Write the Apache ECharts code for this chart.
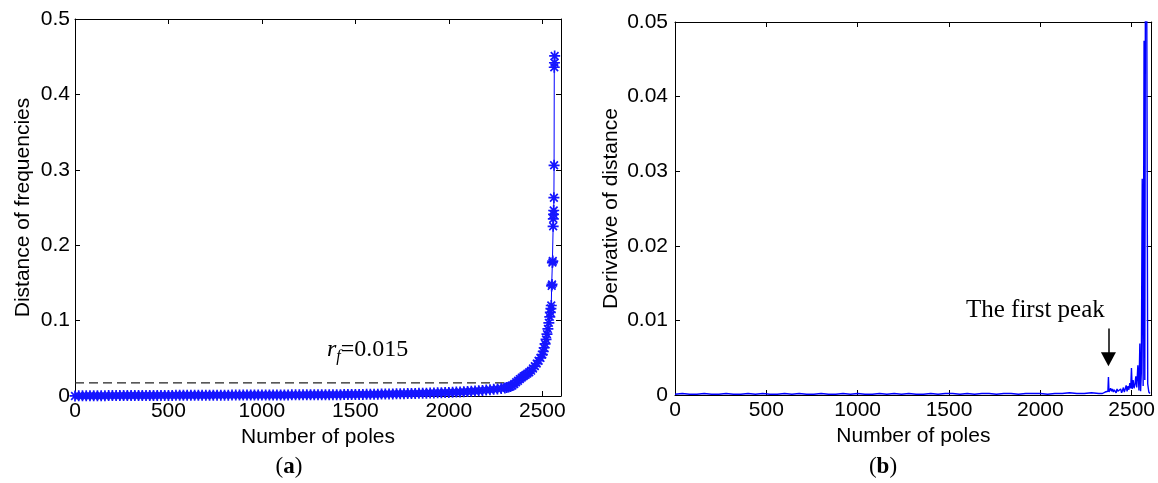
<!DOCTYPE html>
<html>
<head>
<meta charset="utf-8">
<script src="https://cdn.jsdelivr.net/npm/echarts@6/dist/echarts.min.js"></script>
<style>
html,body{margin:0;padding:0;background:#fff;}
#main{width:1158px;height:483px;}
</style>
</head>
<body>
<div id="main"></div>
<script>
// ---------- Data (a): sorted distance of frequencies ----------
const distX = [
0,20,40,60,80,100,120,140,160,180,
200,220,240,260,280,300,320,340,360,380,
400,420,440,460,480,500,520,540,560,580,
600,620,640,660,680,700,720,740,760,780,
800,820,840,860,880,900,920,940,960,980,
1000,1020,1040,1060,1080,1100,1120,1140,1160,1180,
1200,1220,1240,1260,1280,1300,1320,1340,1360,1380,
1400,1420,1440,1460,1480,1500,1520,1540,1560,1580,
1600,1620,1640,1660,1680,1700,1720,1740,1760,1780,
1800,1820,1840,1860,1880,1900,1920,1940,1960,1980,
2000,2020,2040,2060,2080,2100,2120,2140,2160,2180,
2200,2220,2240,2260,2280,2300,
2310,2320,2330,2340,2350,2360,2370,2380,2390,2400,
2410,2420,2430,2440,2450,2460,2470,2480,2490,2500,
2505,2510,2515,2520,2525,2530,2535,2540,2543,2546,
2548,2550,2552,2554,2556,2558,2559,2560,2561,2562,
2563,2564,2565,2566
];
const distY = [
0.0001,0.0002,0.0002,0.0003,0.0003,0.0003,0.0004,0.0004,0.0004,0.0005,
0.0005,0.0005,0.0005,0.0006,0.0006,0.0006,0.0006,0.0007,0.0007,0.0007,
0.0007,0.0007,0.0008,0.0008,0.0008,0.0008,0.0008,0.0009,0.0009,0.0009,
0.0009,0.0009,0.0010,0.0010,0.0010,0.0010,0.0010,0.0011,0.0011,0.0011,
0.0011,0.0011,0.0012,0.0012,0.0012,0.0012,0.0013,0.0013,0.0013,0.0013,
0.0013,0.0013,0.0013,0.0014,0.0014,0.0014,0.0014,0.0014,0.0015,0.0015,
0.0015,0.0015,0.0016,0.0016,0.0016,0.0016,0.0017,0.0017,0.0017,0.0018,
0.0018,0.0018,0.0019,0.0019,0.0020,0.0020,0.0021,0.0021,0.0022,0.0022,
0.0023,0.0024,0.0025,0.0026,0.0027,0.0028,0.0029,0.0030,0.0031,0.0032,
0.0033,0.0034,0.0035,0.0037,0.0038,0.0040,0.0041,0.0043,0.0044,0.0046,
0.0048,0.0050,0.0052,0.0054,0.0057,0.0060,0.0063,0.0066,0.0070,0.0074,
0.0078,0.0083,0.0088,0.0094,0.0100,0.0107,
0.0112,0.0118,0.0126,0.0138,0.0160,0.0182,0.0203,0.0224,0.0244,0.0263,
0.0280,0.0297,0.0315,0.0336,0.0365,0.0396,0.0430,0.0468,0.0505,0.0550,
0.0590,0.0640,0.0690,0.0750,0.0820,0.0890,0.0970,0.1050,0.1110,0.1160,
0.1200,0.1460,0.1480,0.1770,0.1790,0.2250,0.2350,0.2410,0.2460,0.2630,
0.3060,0.4360,0.4420,0.4510
];
const thresholdX = [0, 2320];
const thresholdY = [0.0175, 0.0175];

// ---------- Data (b): derivative of distance ----------
const derivX = [
0,40,80,120,160,200,240,280,320,360,
400,440,480,520,560,600,640,680,720,760,
800,840,880,920,960,1000,1040,1080,1120,1160,
1200,1240,1280,1320,1360,1400,1440,1480,1520,1560,
1600,1640,1680,1720,1760,1800,1840,1880,1920,1960,
2000,2040,2080,2120,2160,2200,2240,2280,2320,
2340,2345,2350,2355,2360,2365,2370,2373,2376,2380,
2385,2390,2395,2400,2405,2410,2415,2420,2425,2430,
2435,2440,2445,2450,2455,2460,2465,2470,2475,2480,
2485,2490,2495,2499,2503,2508,2513,2518,2523,2528,
2534,2540,2545,2549,2553,2558,2563,2568,2572,2577,
2582,2588,2594,2600
];
const derivY = [
0.0001,0.0002,0.0001,0.0001,0.0002,0.0001,0.0001,0.0002,0.0001,0.0001,
0.0002,0.0001,0.0002,0.0001,0.0001,0.0002,0.0001,0.0002,0.0001,0.0001,
0.0002,0.0001,0.0001,0.0002,0.0001,0.0002,0.0001,0.0001,0.0002,0.0001,
0.0002,0.0001,0.0002,0.0001,0.0001,0.0002,0.0001,0.0002,0.0002,0.0001,
0.0002,0.0001,0.0002,0.0002,0.0001,0.0002,0.0002,0.0001,0.0002,0.0002,
0.0002,0.0001,0.0002,0.0002,0.0003,0.0002,0.0002,0.0003,0.0002,
0.0002,0.0003,0.0002,0.0004,0.0003,0.0002,0.0005,0.0024,0.0004,0.0006,
0.0009,0.0005,0.0008,0.0004,0.0007,0.0009,0.0003,0.0008,0.0005,0.0004,
0.0006,0.0008,0.0003,0.0006,0.0010,0.0004,0.0008,0.0013,0.0005,0.0012,
0.0007,0.0016,0.0009,0.0036,0.0008,0.0020,0.0009,0.0014,0.0025,0.0010,
0.0040,0.0006,0.0069,0.0005,0.0030,0.0290,0.0012,0.0475,0.0020,0.0800,
0.0600,0.0015,0.0004,0.0002
];
const firstPeakX = 2373;

// ---------- Axis ticks ----------
const xTicks = [0, 500, 1000, 1500, 2000, 2500];
const yTicksA = [0, 0.1, 0.2, 0.3, 0.4, 0.5];
const yTicksB = [0, 0.01, 0.02, 0.03, 0.04, 0.05];

const zip = (a, b) => a.map((v, i) => [v, b[i]]);
const SANS = '"Liberation Sans", Arial, sans-serif';
const SERIF = '"Liberation Serif", "Times New Roman", serif';
const BLUE = '#0000ff';
const FS = 21;

const chart = echarts.init(document.getElementById('main'), null, {renderer: 'canvas'});

function mainX(gridIndex, max) {
  return {
    type: 'value', gridIndex: gridIndex, min: 0, max: max, interval: 500,
    position: 'bottom',
    name: 'Number of poles', nameLocation: 'middle', nameGap: 29,
    nameTextStyle: {fontFamily: SANS, fontSize: FS, color: '#000'},
    axisLine: {show: true, onZero: false, lineStyle: {color: '#000', width: 1}},
    axisTick: {show: true, inside: true, length: 5, lineStyle: {color: '#000'}},
    axisLabel: {show: true, fontFamily: SANS, fontSize: FS, color: '#000', margin: 5,
      showMaxLabel: false,
      formatter: v => xTicks.indexOf(v) >= 0 ? String(v) : ''},
    splitLine: {show: false}
  };
}
function boxX(gridIndex, max) {
  return {
    type: 'value', gridIndex: gridIndex, min: 0, max: max, interval: 500, position: 'top',
    axisLine: {show: true, onZero: false, lineStyle: {color: '#000', width: 1}},
    axisTick: {show: true, inside: true, length: 5, lineStyle: {color: '#000'}},
    axisLabel: {show: false}, splitLine: {show: false}
  };
}
function mainY(gridIndex, max, interval, name, gap, ticks, digits, margin) {
  return {
    type: 'value', gridIndex: gridIndex, min: 0, max: max, interval: interval,
    position: 'left',
    name: name, nameLocation: 'middle', nameGap: gap, nameRotate: 90,
    nameTextStyle: {fontFamily: SANS, fontSize: FS, color: '#000'},
    axisLine: {show: true, onZero: false, lineStyle: {color: '#000', width: 1}},
    axisTick: {show: true, inside: true, length: 5, lineStyle: {color: '#000'}},
    axisLabel: {show: true, fontFamily: SANS, fontSize: FS, color: '#000', margin: margin,
      formatter: v => {
        const m = ticks.find(t => Math.abs(t - v) < 1e-9);
        if (m === undefined) return '';
        return m === 0 ? '0' : m.toFixed(digits);
      }},
    splitLine: {show: false}
  };
}
function boxY(gridIndex, max, interval) {
  return {
    type: 'value', gridIndex: gridIndex, min: 0, max: max, interval: interval, position: 'right',
    axisLine: {show: true, onZero: false, lineStyle: {color: '#000', width: 1}},
    axisTick: {show: true, inside: true, length: 5, lineStyle: {color: '#000'}},
    axisLabel: {show: false}, splitLine: {show: false}
  };
}

const asterisk = 'path://M5,0L5,10M0,5L10,5M1.5,1.5L8.5,8.5M1.5,8.5L8.5,1.5';

const option = {
  animation: false,
  backgroundColor: '#fff',
  grid: [
    {left: 75, top: 19, width: 486, height: 377, containLabel: false},
    {left: 675, top: 22, width: 477, height: 373, containLabel: false}
  ],
  xAxis: [
    mainX(0, 2600), boxX(0, 2600),
    mainX(1, 2610), boxX(1, 2610)
  ],
  yAxis: [
    mainY(0, 0.5, 0.1, 'Distance of frequencies', 41, yTicksA, 1, 5), boxY(0, 0.5, 0.1),
    mainY(1, 0.05, 0.01, 'Derivative of distance', 53, yTicksB, 2, 7), boxY(1, 0.05, 0.01)
  ],
  series: [
    {
      type: 'line', xAxisIndex: 0, yAxisIndex: 0,
      data: zip(distX, distY),
      symbol: asterisk, symbolSize: 11, showAllSymbol: true,
      itemStyle: {color: 'rgba(0,0,255,0)', borderColor: '#1515ff', borderWidth: 1.7},
      lineStyle: {color: BLUE, width: 1},
      z: 3
    },
    {
      type: 'line', xAxisIndex: 0, yAxisIndex: 0,
      data: zip(thresholdX, thresholdY),
      symbol: 'none',
      lineStyle: {color: '#222', width: 1.2, type: [9, 5]},
      z: 2
    },
    {
      type: 'line', xAxisIndex: 2, yAxisIndex: 2,
      data: zip(derivX, derivY),
      symbol: 'none', clip: true,
      lineStyle: {color: BLUE, width: 1.4},
      markLine: {
        silent: true,
        symbol: ['none', 'triangle'],
        symbolSize: [15, 14],
        label: {show: false},
        lineStyle: {color: '#000', width: 1.5, type: 'solid'},
        data: [[{coord: [firstPeakX, 0.0089]}, {coord: [firstPeakX, 0.0048]}]]
      }
    }
  ]
};
chart.setOption(option);

const pA = chart.convertToPixel({gridIndex: 0}, [1348, 0.0775]);
const pB = chart.convertToPixel({gridIndex: 1}, [2353, 0.0113]);

chart.setOption({
  graphic: [
    {
      type: 'text', x: pA[0], y: pA[1],
      style: {
        text: '{r|r}{f|f}{n|=0.015}',
        textAlign: 'left', textVerticalAlign: 'top',
        rich: {
          r: {fontFamily: SERIF, fontStyle: 'italic', fontSize: 24, lineHeight: 27, verticalAlign: 'top', fill: '#000'},
          f: {fontFamily: SERIF, fontStyle: 'italic', fontSize: 16, lineHeight: 17, padding: [11, 0, 0, 0], verticalAlign: 'top', fill: '#000'},
          n: {fontFamily: SERIF, fontSize: 24, lineHeight: 27, verticalAlign: 'top', fill: '#000'}
        }
      }
    },
    {
      type: 'text', x: pB[0], y: pB[1],
      style: {
        text: 'The first peak', font: '25px ' + SERIF, fill: '#000',
        textAlign: 'right', textVerticalAlign: 'middle'
      }
    },
    {
      type: 'text', x: 289, y: 467,
      style: {
        text: '{p|(}{b|a}{p|)}', textAlign: 'center', textVerticalAlign: 'middle',
        rich: {
          p: {fontFamily: SERIF, fontSize: 23, fill: '#000'},
          b: {fontFamily: SERIF, fontSize: 23, fontWeight: 'bold', fill: '#000'}
        }
      }
    },
    {
      type: 'text', x: 883, y: 467,
      style: {
        text: '{p|(}{b|b}{p|)}', textAlign: 'center', textVerticalAlign: 'middle',
        rich: {
          p: {fontFamily: SERIF, fontSize: 23, fill: '#000'},
          b: {fontFamily: SERIF, fontSize: 23, fontWeight: 'bold', fill: '#000'}
        }
      }
    }
  ]
});
</script>
</body>
</html>
